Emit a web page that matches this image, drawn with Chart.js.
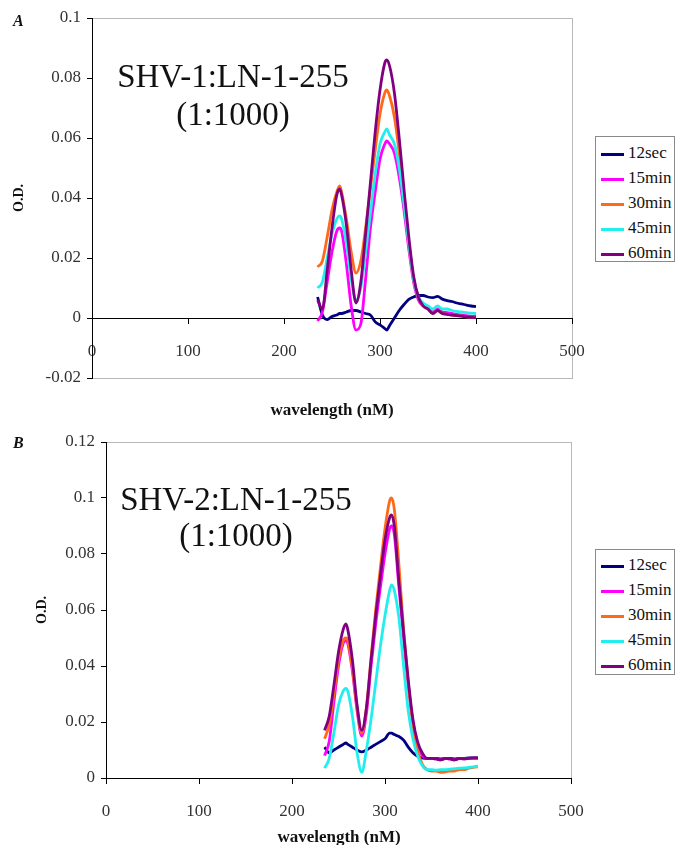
<!DOCTYPE html>
<html>
<head>
<meta charset="utf-8">
<script src="https://cdn.jsdelivr.net/npm/chart.js@4.4.1/dist/chart.umd.min.js"></script>
<style>
  body { margin: 0; background: #fff; }
  #wrap { position: relative; width: 677px; height: 845px; font-family: "Liberation Serif", "Times New Roman", serif; color: #111; }
  canvas { position: absolute; left: 0; }
  .panel { position: absolute; font-weight: bold; font-style: italic; font-size: 16px; }
  .note { position: absolute; text-align: center; font-size: 33px; white-space: nowrap; }
  .xtitle { position: absolute; font-weight: bold; font-size: 17px; text-align: center; width: 300px; }
  .legend { position: absolute; left: 595px; width: 80px; height: 126px; border: 1px solid #8a8a8a; box-sizing: border-box; background: #fff; }
  .legend div { height: 25px; line-height: 25px; font-size: 17px; white-space: nowrap; }
  .legend span { display: inline-block; width: 23px; height: 3px; margin: 0 4px 0 5px; vertical-align: middle; }
</style>
</head>
<body>
<div id="wrap">
  <canvas id="chartA" width="677" height="420" style="top:0"></canvas>
  <canvas id="chartB" width="677" height="425" style="top:420px"></canvas>

  <div class="panel" style="left:13px; top:12px">A</div>
  <div class="panel" style="left:13px; top:434px">B</div>

  <div class="note" style="left:83px; width:300px; top:57px; line-height:38px">SHV-1:LN-1-255<br>(1:1000)</div>
  <div class="note" style="left:86px; width:300px; top:481px; line-height:36px">SHV-2:LN-1-255<br>(1:1000)</div>

  <div class="xtitle" style="left:182px; top:400px">wavelength (nM)</div>
  <div class="xtitle" style="left:189px; top:827px">wavelength (nM)</div>

  <div class="legend" id="legendA" style="top:136px; padding-top:3px"></div>
  <div class="legend" id="legendB" style="top:549px; padding-top:2px"></div>
</div>
<script>
const seriesNames = ['12sec', '15min', '30min', '45min', '60min'];
const seriesColors = ['#000080', '#ff00ff', '#ff6a1a', '#22eeee', '#800080'];

const xTicks = [0, 100, 200, 300, 400, 500];
const yTicksA = [-0.02, 0, 0.02, 0.04, 0.06, 0.08, 0.1];
const yLabelsA = ['-0.02', '0', '0.02', '0.04', '0.06', '0.08', '0.1'];
const yTicksB = [0, 0.02, 0.04, 0.06, 0.08, 0.1, 0.12];
const yLabelsB = ['0', '0.02', '0.04', '0.06', '0.08', '0.1', '0.12'];

// wavelength (nM), same sampling for both panels
const wavelengths = [235, 240, 245, 250, 255, 258, 260, 265, 270, 275, 280, 285, 290, 295, 300, 305, 307, 310,
  315, 320, 325, 330, 335, 340, 345, 350, 355, 360, 365, 370, 375, 380, 385, 390, 395, 400];

// panel A: SHV-1
const a12sec = [0.007, 0.001, -0.0005, 0.0005, 0.001, 0.0015, 0.0015, 0.002, 0.0025, 0.0025, 0.002, 0.0015, 0.001, -0.0013, -0.0023, -0.0035, -0.004, -0.0025,
  0.000, 0.0025, 0.0045, 0.0062, 0.007, 0.0075, 0.0075, 0.007, 0.0068, 0.0072, 0.0063, 0.0058, 0.0055, 0.005, 0.0047, 0.0043, 0.004, 0.0038];
const a15min = [-0.001, 0.002, 0.012, 0.022, 0.029, 0.030, 0.029, 0.018, 0.004, -0.004, -0.002, 0.013, 0.030, 0.042, 0.053, 0.058, 0.059, 0.058,
  0.055, 0.047, 0.036, 0.023, 0.012, 0.006, 0.004, 0.003, 0.002, 0.003, 0.002, 0.0018, 0.0015, 0.0012, 0.001, 0.0008, 0.0006, 0.0005];
const a30min = [0.017, 0.019, 0.027, 0.036, 0.042, 0.044, 0.042, 0.033, 0.022, 0.015, 0.019, 0.030, 0.043, 0.056, 0.068, 0.075, 0.076, 0.074,
  0.067, 0.055, 0.040, 0.025, 0.013, 0.007, 0.004, 0.003, 0.0015, 0.0025, 0.0015, 0.0012, 0.001, 0.0008, 0.0006, 0.0004, 0.0002, 0.0001];
const a45min = [0.010, 0.012, 0.020, 0.028, 0.033, 0.034, 0.033, 0.025, 0.013, 0.006, 0.010, 0.022, 0.035, 0.048, 0.058, 0.062, 0.063, 0.061,
  0.058, 0.050, 0.038, 0.025, 0.013, 0.007, 0.005, 0.004, 0.003, 0.004, 0.003, 0.003, 0.0025, 0.0022, 0.002, 0.0018, 0.0016, 0.0015];
const a60min = [0.006, 0.003, 0.016, 0.030, 0.041, 0.043, 0.041, 0.031, 0.016, 0.005, 0.012, 0.028, 0.045, 0.062, 0.076, 0.085, 0.086, 0.084,
  0.075, 0.060, 0.043, 0.027, 0.014, 0.007, 0.004, 0.003, 0.0015, 0.0025, 0.0015, 0.0012, 0.001, 0.0008, 0.0006, 0.0004, 0.0002, 0.0001];

// panel B: SHV-2
const b12sec = [0.011, 0.009, 0.010, 0.011, 0.012, 0.0125, 0.012, 0.011, 0.010, 0.0093, 0.010, 0.011, 0.012, 0.013, 0.014, 0.016, 0.016, 0.0155,
  0.0148, 0.0135, 0.011, 0.009, 0.0078, 0.0072, 0.007, 0.007, 0.007, 0.0068, 0.007, 0.007, 0.0068, 0.007, 0.007, 0.0072, 0.0072, 0.0072];
const b15min = [0.008, 0.013, 0.027, 0.040, 0.048, 0.049, 0.048, 0.038, 0.024, 0.015, 0.023, 0.040, 0.055, 0.068, 0.080, 0.089, 0.090, 0.087,
  0.068, 0.050, 0.033, 0.020, 0.012, 0.008, 0.007, 0.007, 0.0068, 0.0065, 0.007, 0.0068, 0.0065, 0.007, 0.0068, 0.007, 0.007, 0.007];
const b30min = [0.014, 0.019, 0.030, 0.042, 0.049, 0.050, 0.049, 0.039, 0.025, 0.016, 0.025, 0.043, 0.060, 0.075, 0.089, 0.099, 0.100, 0.096,
  0.076, 0.053, 0.034, 0.019, 0.010, 0.005, 0.003, 0.0025, 0.0025, 0.002, 0.0022, 0.0025, 0.0025, 0.003, 0.003, 0.0035, 0.0038, 0.004];
const b45min = [0.0035, 0.007, 0.016, 0.026, 0.031, 0.032, 0.031, 0.022, 0.009, 0.002, 0.010, 0.021, 0.034, 0.047, 0.058, 0.067, 0.069, 0.067,
  0.057, 0.040, 0.024, 0.014, 0.008, 0.0045, 0.003, 0.003, 0.0028, 0.003, 0.003, 0.0032, 0.0033, 0.0035, 0.0036, 0.0038, 0.004, 0.0042];
const b60min = [0.017, 0.022, 0.033, 0.045, 0.053, 0.055, 0.053, 0.042, 0.026, 0.017, 0.025, 0.042, 0.058, 0.072, 0.085, 0.093, 0.094, 0.090,
  0.070, 0.052, 0.035, 0.021, 0.013, 0.009, 0.007, 0.007, 0.0068, 0.0065, 0.007, 0.0068, 0.0065, 0.007, 0.0068, 0.007, 0.0072, 0.0072];

Chart.defaults.font.family = '"Liberation Serif", "Times New Roman", serif';
Chart.defaults.color = '#333';

// grey frame round the plot area, drawn under the axes
const frame = {
  id: 'frame',
  beforeDraw(chart) {
    const { ctx, chartArea: a } = chart;
    ctx.save();
    ctx.strokeStyle = '#b8b8b8';
    ctx.lineWidth = 1;
    ctx.strokeRect(Math.round(a.left) + 0.5, Math.round(a.top) + 0.5, Math.round(a.width), Math.round(a.height));
    ctx.restore();
  }
};

function makeChart(id, series, yMin, yMax, yTicks, yLabels, pad, axisWidth, titleGap) {
  const datasets = series.map((values, i) => ({
    label: seriesNames[i],
    data: wavelengths.map((w, j) => ({ x: w, y: values[j] })),
    borderColor: seriesColors[i],
    borderWidth: 2.8,
    pointRadius: 0,
    cubicInterpolationMode: 'monotone',
    order: series.length - i
  }));

  return new Chart(document.getElementById(id), {
    type: 'line',
    data: { datasets },
    plugins: [frame],
    options: {
      responsive: false,
      animation: false,
      layout: { padding: pad },
      plugins: { legend: { display: false }, tooltip: { enabled: false } },
      scales: {
        x: {
          type: 'linear',
          min: 0,
          max: 500,
          position: { y: 0 },
          afterBuildTicks: s => { s.ticks = xTicks.map(v => ({ value: v })); },
          ticks: { font: { size: 17 }, padding: 18, maxRotation: 0, callback: v => String(v) },
          grid: { drawOnChartArea: false, tickLength: 5, color: '#000' },
          border: { color: '#000' }
        },
        y: {
          min: yMin,
          max: yMax,
          afterBuildTicks: s => { s.ticks = yTicks.map(v => ({ value: v })); },
          afterFit: s => { s.width = axisWidth; },
          ticks: { font: { size: 17 }, padding: 6, callback: (v, i) => yLabels[i] },
          grid: { drawOnChartArea: false, tickLength: 5, color: '#000' },
          border: { color: '#000' },
          title: { display: true, text: 'O.D.', color: '#111', font: { size: 14, weight: 'bold' }, padding: { top: titleGap, bottom: 0 } }
        }
      }
    }
  });
}

makeChart('chartA', [a12sec, a15min, a30min, a45min, a60min], -0.02, 0.1, yTicksA, yLabelsA,
  { top: 18, bottom: 42, left: 0, right: 105 }, 92, 11);
makeChart('chartB', [b12sec, b15min, b30min, b45min, b60min], 0, 0.12, yTicksB, yLabelsB,
  { top: 22, bottom: 67, left: 0, right: 106 }, 106, 34);

function fillLegend(id) {
  const box = document.getElementById(id);
  seriesNames.forEach((name, i) => {
    const row = document.createElement('div');
    row.innerHTML = '<span style="background:' + seriesColors[i] + '"></span>' + name;
    box.appendChild(row);
  });
}
fillLegend('legendA');
fillLegend('legendB');
</script>
</body>
</html>
